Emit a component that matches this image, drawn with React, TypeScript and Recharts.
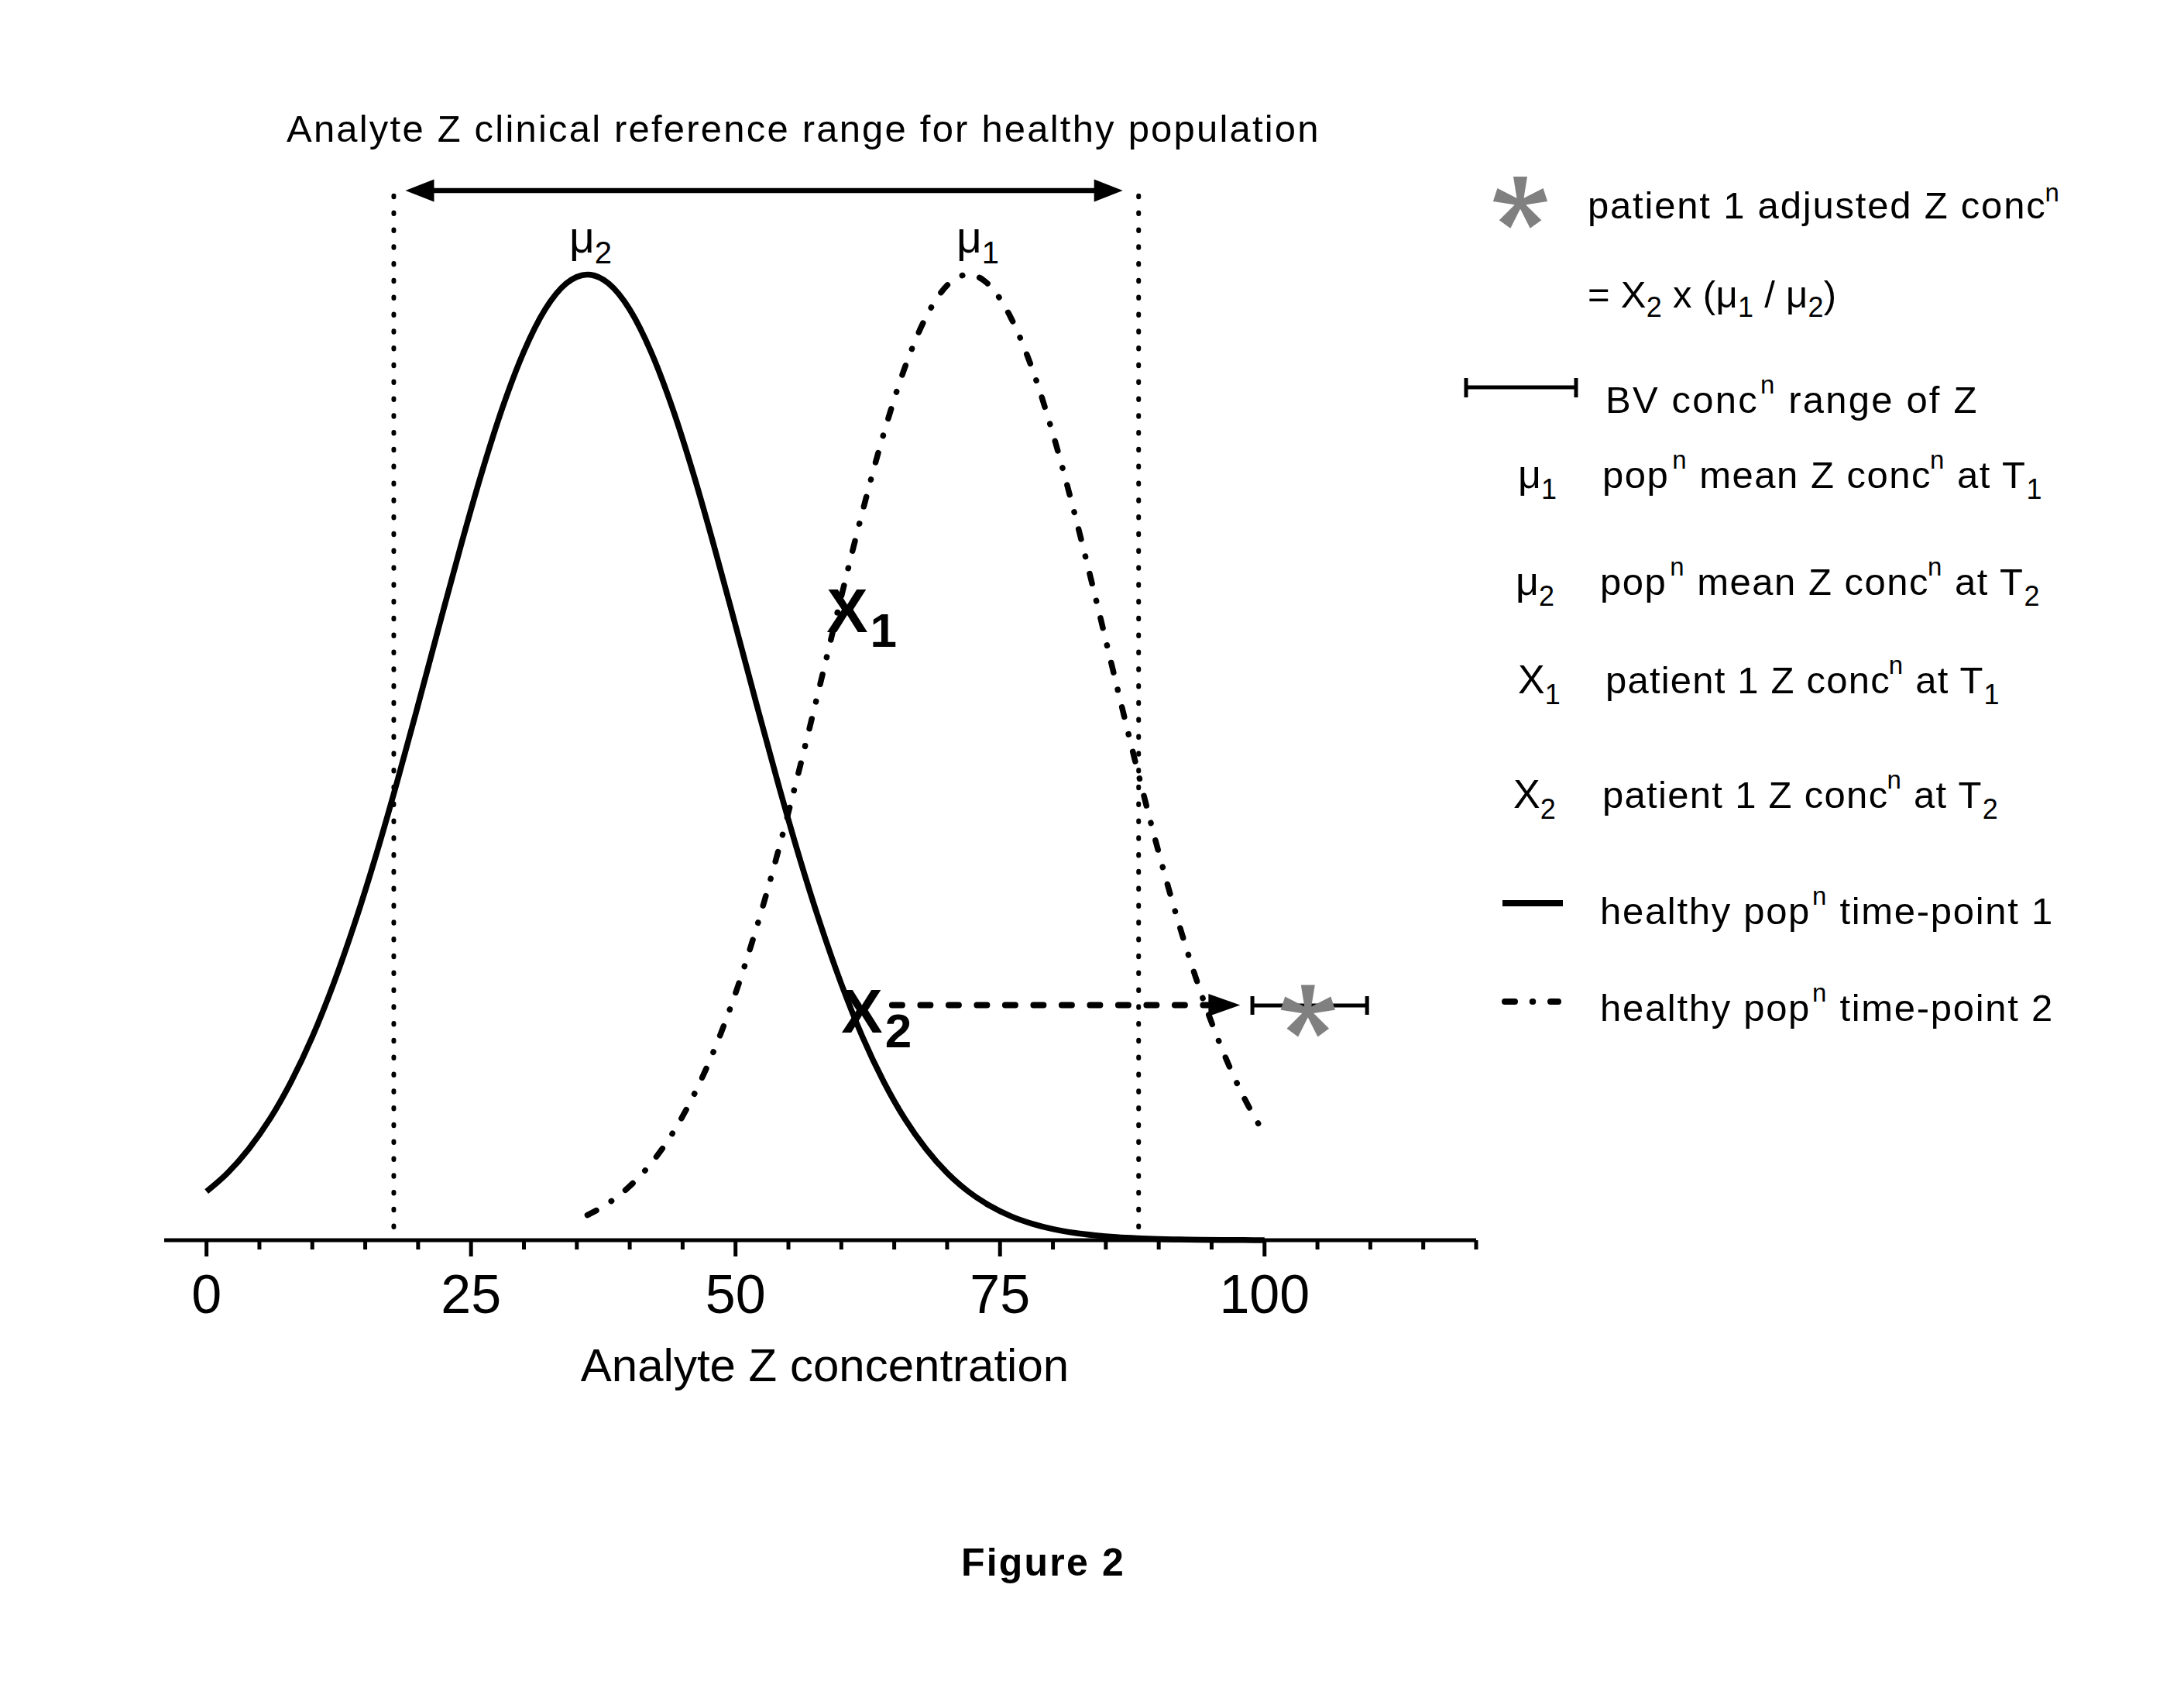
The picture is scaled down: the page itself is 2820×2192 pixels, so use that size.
import React from 'react';
import { ComposedChart, Line, Scatter, XAxis, YAxis, ReferenceLine, ErrorBar } from 'recharts';

const W = 2820;
const H = 2192;
const FONT = '"Liberation Sans", Arial, Helvetica, sans-serif';

// ---- axis ----
const xTicks = [0, 5, 10, 15, 20, 25, 30, 35, 40, 45, 50, 55, 60, 65, 70, 75, 80, 85, 90, 95, 100, 105, 110, 115, 120];
const xTickLabels = [0, 25, 50, 75, 100];
const xAxisTitle = 'Analyte Z concentration';
const chartTitle = 'Analyte Z clinical reference range for healthy population';
const caption = 'Figure 2';

// ---- healthy population, time-point 1 (solid) ----
const tp1Conc = [0, 2, 4, 6, 8, 10, 12, 14, 16, 18, 20, 22, 24, 26, 28, 30, 32, 34, 36, 38, 40, 42, 44, 46, 48, 50, 52, 54, 56, 58, 60, 62, 64, 66, 68, 70, 72, 74, 76, 78, 80, 82, 84, 86, 88, 90, 92, 94, 96, 98, 100];
const tp1Freq = [4.64, 6.41, 8.7, 11.56, 15.11, 19.37, 24.41, 30.17, 36.6, 43.61, 51.01, 58.57, 66.02, 73.07, 79.39, 84.67, 88.67, 91.15, 92.0, 91.15, 88.67, 84.67, 79.39, 73.07, 66.02, 58.57, 51.01, 43.61, 36.6, 30.17, 24.41, 19.37, 15.11, 11.56, 8.7, 6.41, 4.64, 3.3, 2.3, 1.58, 1.06, 0.7, 0.46, 0.29, 0.18, 0.11, 0.07, 0.04, 0.02, 0.01, 0.0];

// ---- healthy population, time-point 2 (dash-dot) ----
const tp2Conc = [36, 38, 40, 42, 44, 46, 48, 50, 52, 54, 56, 58, 60, 62, 64, 66, 68, 70, 72, 74, 76, 78, 80, 82, 84, 86, 88, 90, 92, 94, 96, 98, 100];
const tp2Freq = [2.39, 3.54, 5.14, 7.29, 10.11, 13.71, 18.16, 23.53, 29.82, 36.93, 44.73, 52.96, 61.33, 69.41, 76.82, 83.13, 87.94, 90.97, 92.0, 90.97, 87.94, 83.13, 76.82, 69.41, 61.33, 52.96, 44.73, 36.93, 29.82, 23.53, 18.16, 13.71, 10.11];

// ---- annotations ----
const referenceLimits = [17.7, 88.1];
const rangeArrowShaft = [{ x: 19.8, y: 100 }, { x: 85.6, y: 100 }];
const rangeArrowTips = [{ x: 18.8, y: 100, dir: -1 }, { x: 86.6, y: 100, dir: 1 }];
const shiftArrowShaft = [{ x: 64.8, y: 22.4 }, { x: 95.6, y: 22.4 }];
const shiftArrowTip = [{ x: 97.7, y: 22.4, dir: 1 }];
const bvRange = [{ x: 104.27, y: 22.36, err: [5.42, 5.42] }];
const adjustedConc = [{ x: 104.1, y: 21.8 }];
const muMarks = [{ x: 36.3, y: 94.1, name: 'μ', idx: '2' }, { x: 72.9, y: 94.1, name: 'μ', idx: '1' }];
const patientMarks = [{ x: 58.6, y: 57.9, name: 'X', idx: '1' }, { x: 60.0, y: 19.8, name: 'X', idx: '2' }];

const tp1Data = tp1Conc.map((x, i) => ({ x, y: tp1Freq[i] }));
const tp2Data = tp2Conc.map((x, i) => ({ x, y: tp2Freq[i] }));

type Seg = { t: string; k?: 'sup' | 'sub'; dx?: number };

function Rich(props: {
  x: number; y: number; segs: Seg[]; size?: number; anchor?: string; bold?: boolean; spacing?: number;
  supSize?: number; supDy?: number; subSize?: number; subDy?: number;
}) {
  const { x, y, segs, size = 49, anchor = 'start', bold = false, spacing = 2.2,
    supSize = 33, supDy = -25, subSize = 36, subDy = 14 } = props;
  let cur = 0;
  return (
    <text x={x} y={y} fontFamily={FONT} fontSize={size} fontWeight={bold ? 'bold' : 'normal'}
      letterSpacing={spacing} textAnchor={anchor as any} fill="#000" style={{ whiteSpace: 'pre' }}>
      {segs.map((s, i) => {
        const target = s.k === 'sup' ? supDy : s.k === 'sub' ? subDy : 0;
        const dy = target - cur;
        cur = target;
        const fs = s.k === 'sup' ? supSize : s.k === 'sub' ? subSize : size;
        return <tspan key={i} dx={s.dx ?? 0} dy={dy} fontSize={fs}>{s.t}</tspan>;
      })}
    </text>
  );
}

function Asterisk({ cx, cy }: { cx: number; cy: number }) {
  const L = 34, w0 = 7, w1 = 18;
  const arms = [-90, -18, 54, 126, 198];
  return (
    <g fill="#808080">
      <circle cx={cx} cy={cy} r={8} />
      {arms.map((a) => {
        const r = (a * Math.PI) / 180;
        const ux = Math.cos(r), uy = Math.sin(r);
        const px = -uy, py = ux;
        const pts = [
          [cx + (px * w0) / 2, cy + (py * w0) / 2],
          [cx + ux * L + (px * w1) / 2, cy + uy * L + (py * w1) / 2],
          [cx + ux * L - (px * w1) / 2, cy + uy * L - (py * w1) / 2],
          [cx - (px * w0) / 2, cy - (py * w0) / 2],
        ];
        return <polygon key={a} points={pts.map((p) => p.join(',')).join(' ')} />;
      })}
    </g>
  );
}

function ArrowHead({ cx, cy, dir, len, half }: { cx: number; cy: number; dir: number; len: number; half: number }) {
  const bx = cx - dir * len;
  return <polygon points={`${cx},${cy} ${bx},${cy - half} ${bx},${cy + half}`} fill="#000" />;
}

function AxisTick(props: any) {
  const { x, y, payload } = props;
  const v = payload?.value;
  const major = xTickLabels.includes(v);
  return (
    <g>
      <line x1={x} x2={x} y1={y} y2={y + (major ? 21 : 12)} stroke="#000" strokeWidth={5} />
      {major && (
        <text x={x} y={y + 94} textAnchor="middle" fontFamily={FONT} fontSize={70} fill="#000">{v}</text>
      )}
    </g>
  );
}

function AxisTitle(props: any) {
  const vb = props?.viewBox ?? { x: 212, y: 1601, width: 1694, height: 100 };
  return (
    <text x={vb.x + vb.width / 2 + 6} y={vb.y + 182} textAnchor="middle" fontFamily={FONT} fontSize={60} fill="#000">
      {xAxisTitle}
    </text>
  );
}

const DASH_DOT = '13 22.75 0.5 22.75';

export default function App() {
  return (
    <div style={{ position: 'absolute', left: 0, top: 0, width: W, height: H, background: '#fff' }}>
      <ComposedChart width={W} height={H} margin={{ top: 246, right: 914, bottom: 491, left: 212 }}>
        <XAxis type="number" dataKey="x" domain={[-4, 120]} ticks={xTicks} interval={0}
          tick={(p: any) => <AxisTick {...p} />} tickLine={false} tickSize={0} tickMargin={0}
          axisLine={{ stroke: '#000', strokeWidth: 5 }} height={100} label={AxisTitle} />
        <YAxis type="number" domain={[0, 100]} ticks={[0, 100]} tick={false} tickLine={false}
          axisLine={{ stroke: '#000', strokeWidth: 5 }} width={0} />

        {referenceLimits.map((lim) => (
          <ReferenceLine key={lim} segment={[{ x: lim, y: 99.5 }, { x: lim, y: 0.3 }]} stroke="#000"
            strokeWidth={6} strokeDasharray="1.5 20.3" strokeLinecap="round" />
        ))}

        <Line data={tp1Data} dataKey="y" type="monotone" stroke="#000" strokeWidth={7.5} dot={false}
          activeDot={false} isAnimationActive={false} />
        <Line data={tp2Data} dataKey="y" type="monotone" stroke="#000" strokeWidth={7.5}
          strokeDasharray={DASH_DOT} strokeLinecap="round" dot={false} activeDot={false} isAnimationActive={false} />

        <Line data={rangeArrowShaft} dataKey="y" type="linear" stroke="#000" strokeWidth={6.5} dot={false}
          activeDot={false} isAnimationActive={false} />
        <Scatter data={rangeArrowTips} dataKey="y" isAnimationActive={false}
          shape={(p: any) => <ArrowHead cx={p.cx} cy={p.cy} dir={p.payload.dir} len={37} half={14.5} />} />

        <Line data={shiftArrowShaft} dataKey="y" type="linear" stroke="#000" strokeWidth={8}
          strokeDasharray="13 23.5" strokeLinecap="round" dot={false} activeDot={false} isAnimationActive={false} />
        <Scatter data={shiftArrowTip} dataKey="y" isAnimationActive={false}
          shape={(p: any) => <ArrowHead cx={p.cx} cy={p.cy} dir={p.payload.dir} len={41} half={14.5} />} />

        <Scatter data={bvRange} dataKey="y" isAnimationActive={false} shape={() => <g />}>
          <ErrorBar dataKey="err" direction="x" width={12} stroke="#000" strokeWidth={5} />
        </Scatter>
        <Scatter data={adjustedConc} dataKey="y" isAnimationActive={false}
          shape={(p: any) => <Asterisk cx={p.cx} cy={p.cy} />} />

        <Scatter data={muMarks} dataKey="y" isAnimationActive={false}
          shape={(p: any) => (
            <Rich x={p.cx} y={p.cy} anchor="middle" spacing={0} size={57} subSize={40} subDy={14}
              segs={[{ t: p.payload.name }, { t: p.payload.idx, k: 'sub' }]} />
          )} />
        <Scatter data={patientMarks} dataKey="y" isAnimationActive={false}
          shape={(p: any) => (
            <Rich x={p.cx} y={p.cy} bold spacing={0} size={80} subSize={62} subDy={19}
              segs={[{ t: p.payload.name }, { t: p.payload.idx, k: 'sub', dx: 3 }]} />
          )} />
      </ComposedChart>

      <svg width={W} height={H} style={{ position: 'absolute', left: 0, top: 0, pointerEvents: 'none' }}>
        <Rich x={370} y={183} segs={[{ t: chartTitle }]} />

        {/* legend */}
        <Asterisk cx={1963} cy={262} />
        <Rich x={2050} y={282} spacing={1.8} segs={[{ t: 'patient 1 adjusted Z conc' }, { t: 'n', k: 'sup', dx: -2 }]} supDy={-22} />
        <Rich x={2050} y={397} spacing={0.3} subDy={12}
          segs={[{ t: '= X' }, { t: '2', k: 'sub' }, { t: ' x (μ' }, { t: '1', k: 'sub' }, { t: ' / μ' }, { t: '2', k: 'sub' }, { t: ')' }]} />

        <g stroke="#000">
          <line x1={1893} x2={2035} y1={500} y2={500} strokeWidth={5} />
          <line x1={1893} x2={1893} y1={488} y2={513} strokeWidth={5} />
          <line x1={2035} x2={2035} y1={488} y2={513} strokeWidth={5} />
        </g>
        <Rich x={2073} y={533} segs={[{ t: 'BV conc' }, { t: 'n', k: 'sup', dx: 2 }, { t: ' range of Z' }]} />

        <Rich x={1960} y={630} spacing={0} size={52} segs={[{ t: 'μ' }, { t: '1', k: 'sub' }]} />
        <Rich x={2069} y={630} spacing={1.5}
          segs={[{ t: 'pop' }, { t: 'n', k: 'sup', dx: 4 }, { t: ' mean Z conc' }, { t: 'n', k: 'sup', dx: -2 }, { t: ' at T' }, { t: '1', k: 'sub' }]} />

        <Rich x={1957} y={768} spacing={0} size={52} segs={[{ t: 'μ' }, { t: '2', k: 'sub' }]} />
        <Rich x={2066} y={768} spacing={1.5}
          segs={[{ t: 'pop' }, { t: 'n', k: 'sup', dx: 4 }, { t: ' mean Z conc' }, { t: 'n', k: 'sup', dx: -2 }, { t: ' at T' }, { t: '2', k: 'sub' }]} />

        <Rich x={1960} y={895} spacing={0} size={52} segs={[{ t: 'X' }, { t: '1', k: 'sub' }]} />
        <Rich x={2073} y={895} spacing={1.2}
          segs={[{ t: 'patient 1 Z conc' }, { t: 'n', k: 'sup', dx: -2 }, { t: ' at T' }, { t: '1', k: 'sub' }]} />

        <Rich x={1954} y={1043} spacing={0} size={52} segs={[{ t: 'X' }, { t: '2', k: 'sub' }]} />
        <Rich x={2069} y={1043} spacing={1.3}
          segs={[{ t: 'patient 1 Z conc' }, { t: 'n', k: 'sup', dx: -2 }, { t: ' at T' }, { t: '2', k: 'sub' }]} />

        <line x1={1940} x2={2018} y1={1166} y2={1166} stroke="#000" strokeWidth={8} />
        <Rich x={2066} y={1193} spacing={1.7}
          segs={[{ t: 'healthy pop' }, { t: 'n', k: 'sup', dx: 2 }, { t: ' time-point 1' }]} />

        <line x1={1943} x2={2012} y1={1293} y2={1293} stroke="#000" strokeWidth={8}
          strokeDasharray={DASH_DOT} strokeLinecap="round" />
        <Rich x={2066} y={1318} spacing={1.7}
          segs={[{ t: 'healthy pop' }, { t: 'n', k: 'sup', dx: 2 }, { t: ' time-point 2' }]} />

        <text x={1347} y={2034} textAnchor="middle" fontFamily={FONT} fontSize={50} fontWeight="bold"
          letterSpacing={2.2} fill="#000">{caption}</text>
      </svg>
    </div>
  );
}
